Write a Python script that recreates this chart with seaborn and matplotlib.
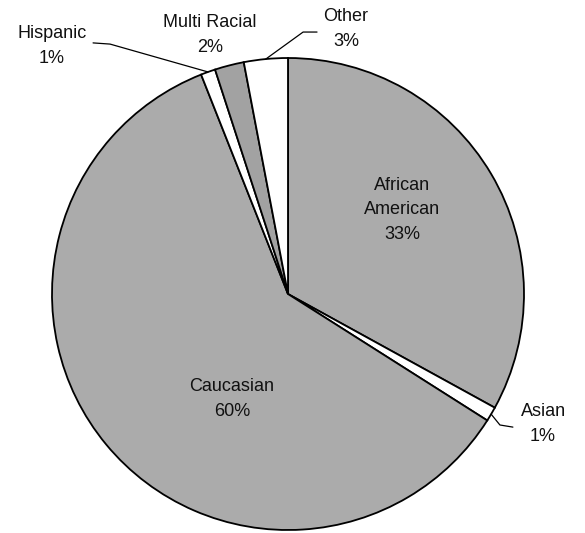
import numpy as np
import matplotlib
matplotlib.use("Agg")
import matplotlib.pyplot as plt
import seaborn as sns

# ---- data ----
categories = ["African\nAmerican", "Asian", "Caucasian", "Hispanic", "Multi Racial", "Other"]
percents = [33, 1, 60, 1, 2, 3]
colors = ["#ababab", "#ffffff", "#ababab", "#ffffff", "#a2a2a2", "#ffffff"]

sns.set_theme(style="white")
plt.rcParams["font.family"] = ["Liberation Sans", "DejaVu Sans"]

fig = plt.figure(figsize=(5.85, 5.33), dpi=100)
ax = fig.add_axes([0, 0, 1, 1])

wedges, _ = ax.pie(percents, colors=colors, startangle=90, counterclock=False,
                   radius=1.0, center=(0, 0),
                   wedgeprops=dict(edgecolor="black", linewidth=1.3))

ax.set_xlim(-1.2203, 1.2585)
ax.set_ylim(-1.0127, 1.2458)
ax.set_aspect("equal")
ax.axis("off")

labels = [f"{c}\n{p}%" for c, p in zip(categories, percents)]
# label layout positions (data coords of the pie axes)
label_pos = [(0.483, 0.356), (1.081, -0.551), (-0.237, -0.445),
             (-1.0, 1.051), (-0.331, 1.097), (0.246, 1.123)]
# leader line points from label side (None = no leader)
leaders = [None,
           [(0.953, -0.564), (0.898, -0.555)],
           None,
           [(-0.826, 1.064), (-0.754, 1.059)],
           None,
           [(0.123, 1.110), (0.064, 1.110)]]

for w, lab, pos, ld in zip(wedges, labels, label_pos, leaders):
    ax.text(pos[0], pos[1], lab, ha="center", va="center", fontsize=13,
            linespacing=1.6, color="#111111")
    if ld is not None:
        mid = np.deg2rad((w.theta1 + w.theta2) / 2)
        edge = (np.cos(mid), np.sin(mid))
        xs = [p[0] for p in ld] + [edge[0]]
        ys = [p[1] for p in ld] + [edge[1]]
        ax.plot(xs, ys, color="black", linewidth=0.9)

fig.savefig("out.png", dpi=100)
